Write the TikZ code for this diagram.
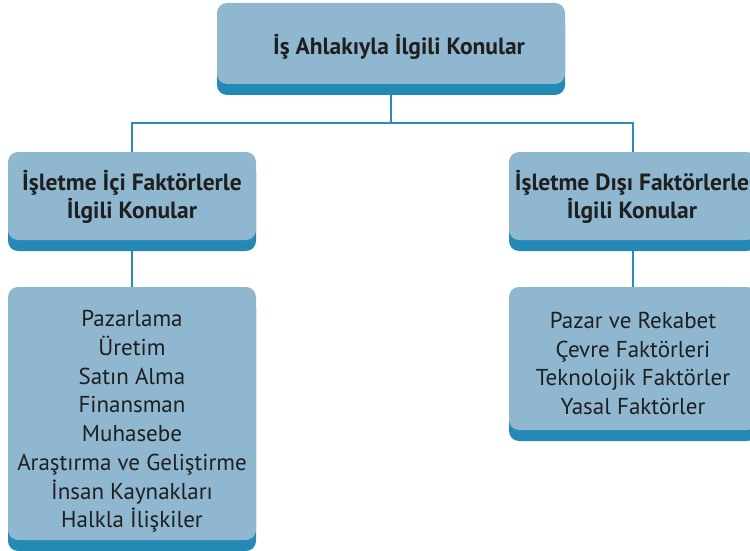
\documentclass[tikz,border=0pt]{standalone}
\usepackage{fontspec}
\setmainfont{PT Sans}
\usetikzlibrary{shadows}
\definecolor{boxfill}{RGB}{143,183,208}
\definecolor{boxshade}{RGB}{36,137,180}
\definecolor{linkblue}{RGB}{42,140,190}
\pgfdeclarelayer{background}
\pgfsetlayers{background,main}
\begin{document}
\begin{tikzpicture}[x=1pt,y=-1pt,
  topicbox/.style={fill=boxfill, rounded corners=10pt, inner sep=0pt,
    drop shadow={shadow xshift=0pt, shadow yshift=-11pt, fill=boxshade, opacity=1}},
  boxtext/.style={align=center, text=black!88, inner sep=0pt},
  headtext/.style={boxtext, font=\fontsize{23.5}{28}\selectfont\bfseries},
  listtext/.style={boxtext, font=\fontsize{23}{28.7}\selectfont},
  link/.style={draw=linkblue, line width=2pt}]
\useasboundingbox (0,0) rectangle (750,551);
\clip (0,0) rectangle (750,551);

% boxes
\node[topicbox, minimum width=348pt, minimum height=81pt] (top) at (391,43.5) {};
\node[topicbox, minimum width=248pt, minimum height=88pt] (inner) at (132,196) {};
\node[topicbox, minimum width=248pt, minimum height=88pt] (outer) at (633,196) {};
\node[topicbox, minimum width=248pt, minimum height=253pt] (innerlist) at (132,413.5) {};
\node[topicbox, minimum width=248pt, minimum height=143pt] (outerlist) at (633,358.5) {};

% texts
\node[headtext] (toptext) at ([xshift=8pt,yshift=-3pt]top.center) {İş Ahlakıyla İlgili Konular};
\node[headtext] (innertext) at ([yshift=-1pt]inner.center) {İşletme İçi Faktörlerle\\İlgili Konular};
\node[headtext] (outertext) at ([xshift=-1pt,yshift=-1pt]outer.center) {İşletme Dışı Faktörlerle\\İlgili Konular};
\node[listtext] (innerlisttext) at ([yshift=-8pt]innerlist.center)
  {Pazarlama\\Üretim\\Satın Alma\\Finansman\\Muhasebe\\Araştırma ve Geliştirme\\İnsan Kaynakları\\Halkla İlişkiler};
\node[listtext] (outerlisttext) at ([yshift=-5pt]outerlist.center)
  {Pazar ve Rekabet\\Çevre Faktörleri\\Teknolojik Faktörler\\Yasal Faktörler};

% connectors
\begin{pgfonlayer}{background}
\draw[link] (top.south) -- ++(0,39) coordinate (split);
\draw[link] (split) -| (inner.north);
\draw[link] (split) -| (outer.north);
\draw[link] (inner.south) -- (innerlist.north);
\draw[link] (outer.south) -- (outerlist.north);
\end{pgfonlayer}
\end{tikzpicture}
\end{document}
